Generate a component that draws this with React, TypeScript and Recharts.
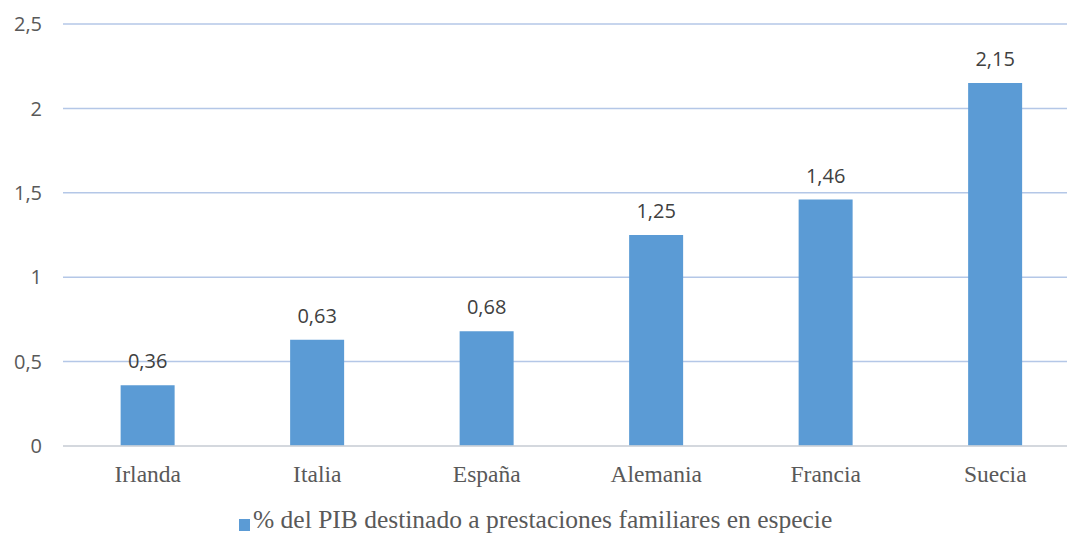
import React from 'react';
import { BarChart, Bar, XAxis, YAxis, CartesianGrid, Legend, LabelList } from 'recharts';

const PAISES = ['Irlanda', 'Italia', 'España', 'Alemania', 'Francia', 'Suecia'];
const PORCENTAJES = [0.36, 0.63, 0.68, 1.25, 1.46, 2.15];
const Y_TICKS = [0, 0.5, 1, 1.5, 2, 2.5];
const SERIE = '% del PIB destinado a prestaciones familiares en especie';

const DATA = PAISES.map((pais, i) => ({ pais, valor: PORCENTAJES[i] }));

const BLUE = '#5B9BD5';
const coma = (v: number | string) => String(v).replace('.', ',');

const renderLegend = () => (
  <div
    style={{
      height: 39,
      display: 'flex',
      alignItems: 'flex-end',
      paddingLeft: 239,
      fontFamily: '"Liberation Serif", "Times New Roman", serif',
      fontSize: 25.5,
      lineHeight: '30px',
      color: '#595959',
      boxSizing: 'border-box',
      whiteSpace: 'nowrap',
    }}
  >
    <span style={{ display: 'inline-block', width: 11, height: 12, background: BLUE, marginRight: 3, marginBottom: 4 }} />
    <span>{SERIE}</span>
  </div>
);

export default function App() {
  return (
    <div style={{ position: 'absolute', left: 0, top: 0, width: 1067, height: 535, overflow: 'hidden', background: '#fff' }}>
      <BarChart
        width={1080}
        height={535}
        data={DATA}
        margin={{ top: 24, right: 0, left: 0, bottom: 0 }}
        barCategoryGap="34%"
      >
        <CartesianGrid vertical={false} stroke="#B4C7E7" strokeWidth={1.5} />
        <XAxis
          dataKey="pais"
          height={50}
          tickLine={false}
          tickSize={0}
          tickMargin={19}
          axisLine={{ stroke: '#D9D9D9', strokeWidth: 1.5 }}
          tick={{ fill: '#595959', fontSize: 23.5, fontFamily: '"Liberation Serif", serif' }}
        />
        <YAxis
          width={63}
          domain={[0, 2.5]}
          ticks={Y_TICKS}
          axisLine={false}
          tickLine={false}
          tickSize={0}
          tickMargin={21}
          tickFormatter={coma}
          tick={{ fill: '#595959', fontSize: 20, fontFamily: '"Open Sans", sans-serif' }}
        />
        <Legend verticalAlign="bottom" height={39} wrapperStyle={{ left: 0, width: 1067, bottom: 0 }} content={renderLegend} />
        <Bar dataKey="valor" name={SERIE} fill={BLUE} isAnimationActive={false}>
          <LabelList
            dataKey="valor"
            position="top"
            offset={17}
            formatter={coma}
            style={{ fill: '#404040', fontSize: 20, fontFamily: '"Open Sans", sans-serif' }}
          />
        </Bar>
      </BarChart>
    </div>
  );
}
